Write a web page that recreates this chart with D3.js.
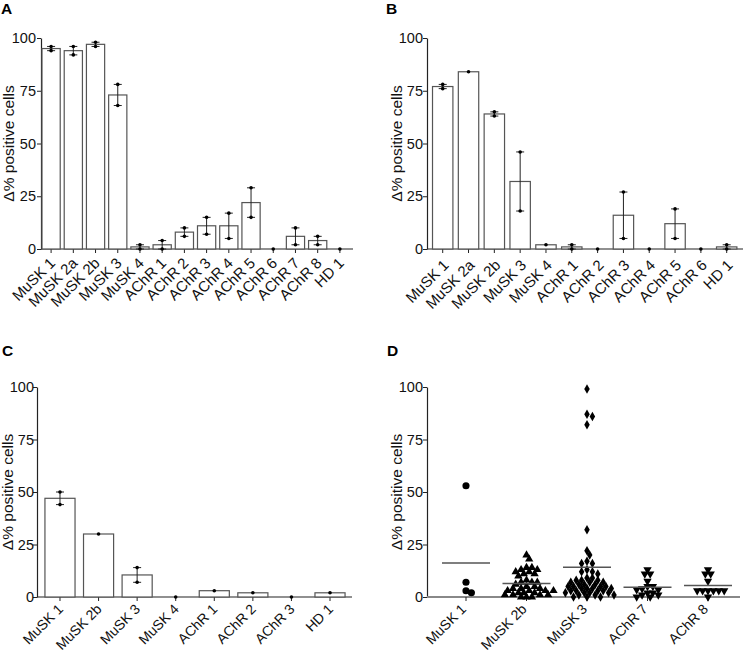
<!DOCTYPE html>
<html>
<head>
<meta charset="utf-8">
<script src="https://cdn.jsdelivr.net/npm/d3@7"></script>
<style>
  html, body { margin: 0; padding: 0; background: #fff; }
  svg { display: block; font-family: "Liberation Sans", Arial, sans-serif; }
</style>
</head>
<body>
<svg id="chart" width="743" height="654"></svg>
<script>
// ---------- DATA ----------
const yTicks = [0, 25, 50, 75, 100];
const yTitle = "Δ% positive cells";

const catsA = ["MuSK 1","MuSK 2a","MuSK 2b","MuSK 3","MuSK 4","AChR 1","AChR 2","AChR 3","AChR 4","AChR 5","AChR 6","AChR 7","AChR 8","HD 1"];
const meansA = [95, 94, 97, 73, 1, 2, 8, 11, 11, 22, 0, 6, 4, 0];
const pointsA = [[96,94],[96,92],[98,96],[78,68],[2,0],[4,0],[10,6],[15,7],[17,5],[29,15],[0],[10,2],[6,2],[0]];

const catsB = ["MuSK 1","MuSK 2a","MuSK 2b","MuSK 3","MuSK 4","AChR 1","AChR 2","AChR 3","AChR 4","AChR 5","AChR 6","HD 1"];
const meansB = [77, 84, 64, 32, 2, 1, 0, 16, 0, 12, 0, 1];
const pointsB = [[78,76],[84],[65,63],[46,18],[2],[2,0],[0],[27,5],[0],[19,5],[0],[2,0]];

const catsC = ["MuSK 1","MuSK 2b","MuSK 3","MuSK 4","AChR 1","AChR 2","AChR 3","HD 1"];
const meansC = [47, 30, 10.5, 0, 3, 2, 0, 2];
const pointsC = [[50,44],[30],[14,7],[0],[3],[2],[0],[2]];

const catsD = ["MuSK 1","MuSK 2b","MuSK 3","AChR 7","AChR 8"];
const musk1D = [53, 7, 3, 2];
const musk2bD = [20, 18, 14, 14, 13, 13, 12, 12, 11, 11, 10, 8, 7, 7, 7, 6, 5, 5, 4, 4, 4, 3, 3, 3, 3, 2, 2, 2, 1, 1, 1, 1, 0, 0, 0];
const musk3D = [99, 87, 86, 82, 32, 22, 20, 17, 16, 16, 13, 12, 12, 11, 9, 9, 8, 8, 8, 7, 7, 7, 6, 6, 6, 5, 5, 5, 5, 4, 4, 4, 4, 3, 3, 3, 3, 2, 2, 2, 2, 1, 1, 1, 0, 0, 0];
const achr7D = [13, 11, 11, 7.5, 5, 5, 4, 3.5, 3.5, 2, 2, 1, 1, 0, 0];
const achr8D = [13, 11, 11, 7.5, 3, 3, 3, 3, 3, 3, 0];
const shapesD = ["circle", "triangle", "diamond", "triangleDown", "triangleDown"];

// ---------- DRAW ----------
const svg = d3.select("#chart");
const FF = "Liberation Sans, Arial, sans-serif";

function panelFrame(cfg) {
  const g = svg.append("g");
  const y = d3.scaleLinear().domain([0, 100]).range([cfg.bottom, cfg.top]);
  const x = d3.scaleBand().domain(cfg.cats).range([cfg.x0, cfg.x1])
    .paddingInner(cfg.pad).paddingOuter(cfg.pad / 2);

  // panel letter
  g.append("text").attr("x", cfg.letterX).attr("y", cfg.letterY)
    .attr("font-weight", "bold").attr("font-size", 15.5).attr("fill", "#000")
    .text(cfg.letter);

  // y axis
  const ya = g.append("g").attr("transform", `translate(${cfg.axisX},0)`)
    .call(d3.axisLeft(y).tickValues(yTicks).tickSize(4).tickSizeOuter(0).tickPadding(cfg.yPad));
  ya.select(".domain").attr("stroke", "#222").attr("stroke-width", 1.2);
  ya.selectAll(".tick line").attr("stroke", "#222");
  ya.selectAll(".tick text").attr("font-size", 14.5).attr("fill", "#111")
    .attr("font-family", FF);

  // y title
  g.append("text")
    .attr("transform", `translate(${cfg.titleX},${(cfg.top + cfg.bottom) / 2}) rotate(-90)`)
    .attr("text-anchor", "middle").attr("dy", "0.35em")
    .attr("font-size", 15.5).attr("fill", "#111").text(yTitle);

  // x axis line
  g.append("line").attr("x1", cfg.axisX).attr("x2", cfg.axisEnd)
    .attr("y1", cfg.bottom).attr("y2", cfg.bottom)
    .attr("stroke", cfg.xAxisColor || "#222").attr("stroke-width", cfg.xAxisWidth || 1.2);

  // x ticks & labels
  const xa = g.append("g").attr("transform", `translate(0,${cfg.bottom})`)
    .call(d3.axisBottom(x).tickSize(4).tickSizeOuter(0));
  xa.select(".domain").remove();
  xa.selectAll(".tick line").attr("stroke", "#222");
  xa.selectAll(".tick text")
    .attr("font-size", cfg.xFont).attr("fill", "#111")
    .attr("font-family", FF)
    .attr("text-anchor", "end")
    .attr("dy", null).attr("y", null)
    .attr("transform", `translate(${cfg.lblDx},${cfg.lblDy}) rotate(-45)`);

  return { g, x, y };
}

function barPanel(cfg, means, points) {
  const { g, x, y } = panelFrame(cfg);
  const bw = x.bandwidth();
  const data = cfg.cats.map((c, i) => ({ c, m: means[i], p: points[i] }));

  g.selectAll("rect.bar").data(data).enter().append("rect")
    .attr("class", "bar")
    .attr("x", d => x(d.c))
    .attr("y", d => y(d.m))
    .attr("width", bw)
    .attr("height", d => y(0) - y(d.m))
    .attr("fill", "#fff").attr("stroke", "#555").attr("stroke-width", 1.2);

  const cap = 4;
  const eb = g.selectAll("g.eb").data(data).enter().append("g")
    .attr("transform", d => `translate(${x(d.c) + bw / 2},0)`);
  eb.filter(d => d.p.length > 1).append("line")
    .attr("y1", d => y(d3.min(d.p))).attr("y2", d => y(d3.max(d.p)))
    .attr("stroke", "#222").attr("stroke-width", 1);
  eb.filter(d => d.p.length > 1).selectAll("line.cap")
    .data(d => [d3.min(d.p), d3.max(d.p)]).enter().append("line")
    .attr("class", "cap")
    .attr("x1", -cap).attr("x2", cap)
    .attr("y1", v => y(v)).attr("y2", v => y(v))
    .attr("stroke", "#222").attr("stroke-width", 1);
  eb.selectAll("circle").data(d => d.p).enter().append("circle")
    .attr("cx", 0).attr("cy", v => y(v)).attr("r", 1.8).attr("fill", "#000");
}

// simple beeswarm with an elliptical collision footprint
function swarm(values, y, dX, dY) {
  const pts = values.map(v => ({ v, py: y(v), dx: 0 }))
    .sort((a, b) => b.v - a.v);
  const placed = [];
  const step = dX * 0.5;
  for (const p of pts) {
    for (let k = 0; k < 80; k++) {
      const cand = k === 0 ? [0] : [k * step, -k * step];
      let ok = null;
      for (const off of cand) {
        if (placed.every(q => ((q.dx - off) / dX) ** 2 + ((q.py - p.py) / dY) ** 2 >= 1)) { ok = off; break; }
      }
      if (ok !== null) { p.dx = ok; break; }
    }
    placed.push(p);
  }
  return pts;
}

function scatterPanel(cfg, groups) {
  const { g, x, y } = panelFrame(cfg);
  const bw = x.bandwidth();
  const symMap = {
    circle: d3.symbolCircle, triangle: d3.symbolTriangle,
    diamond: d3.symbolDiamond, triangleDown: d3.symbolTriangle
  };
  const sizeMap = { circle: 40, triangle: 30, diamond: 26, triangleDown: 30 };
  groups.forEach((vals, i) => {
    const cx = x(cfg.cats[i]) + bw / 2;
    const shape = shapesD[i];
    const pts = swarm(vals, y, 5.4, 4.6);
    const sym = d3.symbol().type(symMap[shape]).size(sizeMap[shape]);
    g.selectAll(null).data(pts).enter().append("path")
      .attr("d", sym)
      .attr("transform", p => `translate(${cx + p.dx},${p.py})` + (shape === "triangleDown" ? " rotate(180)" : ""))
      .attr("fill", "#000");
    const m = d3.mean(vals);
    g.append("line")
      .attr("x1", cx - 24).attr("x2", cx + 24)
      .attr("y1", y(m)).attr("y2", y(m))
      .attr("stroke", "#555").attr("stroke-width", 1.5);
  });
}

barPanel({
  letter: "A", letterX: 1, letterY: 14,
  cats: catsA, top: 38, bottom: 249, axisX: 41, axisEnd: 353,
  x0: 40, x1: 351, pad: 0.18, titleX: 9, yPad: 1,
  xFont: 15, lblDx: 5, lblDy: 15
}, meansA, pointsA);

barPanel({
  letter: "B", letterX: 386, letterY: 14,
  cats: catsB, top: 38, bottom: 249, axisX: 427, axisEnd: 743,
  x0: 429.8, x1: 739.6, pad: 0.21, titleX: 397, yPad: 0,
  xFont: 15, lblDx: 7, lblDy: 17
}, meansB, pointsB);

barPanel({
  letter: "C", letterX: 2, letterY: 356,
  cats: catsC, top: 387, bottom: 597, axisX: 37, axisEnd: 352,
  x0: 40.7, x1: 349.3, pad: 0.22, titleX: 8, yPad: -1,
  xFont: 14, lblDx: 4, lblDy: 13
}, meansC, pointsC);

scatterPanel({
  letter: "D", letterX: 387, letterY: 356,
  cats: catsD, top: 387, bottom: 597, axisX: 427, axisEnd: 740,
  x0: 435.75, x1: 738.25, pad: 0.2, titleX: 397, yPad: 0,
  xAxisColor: "#888", xAxisWidth: 2,
  xFont: 14, lblDx: 1, lblDy: 13
}, [musk1D, musk2bD, musk3D, achr7D, achr8D]);
</script>
</body>
</html>
